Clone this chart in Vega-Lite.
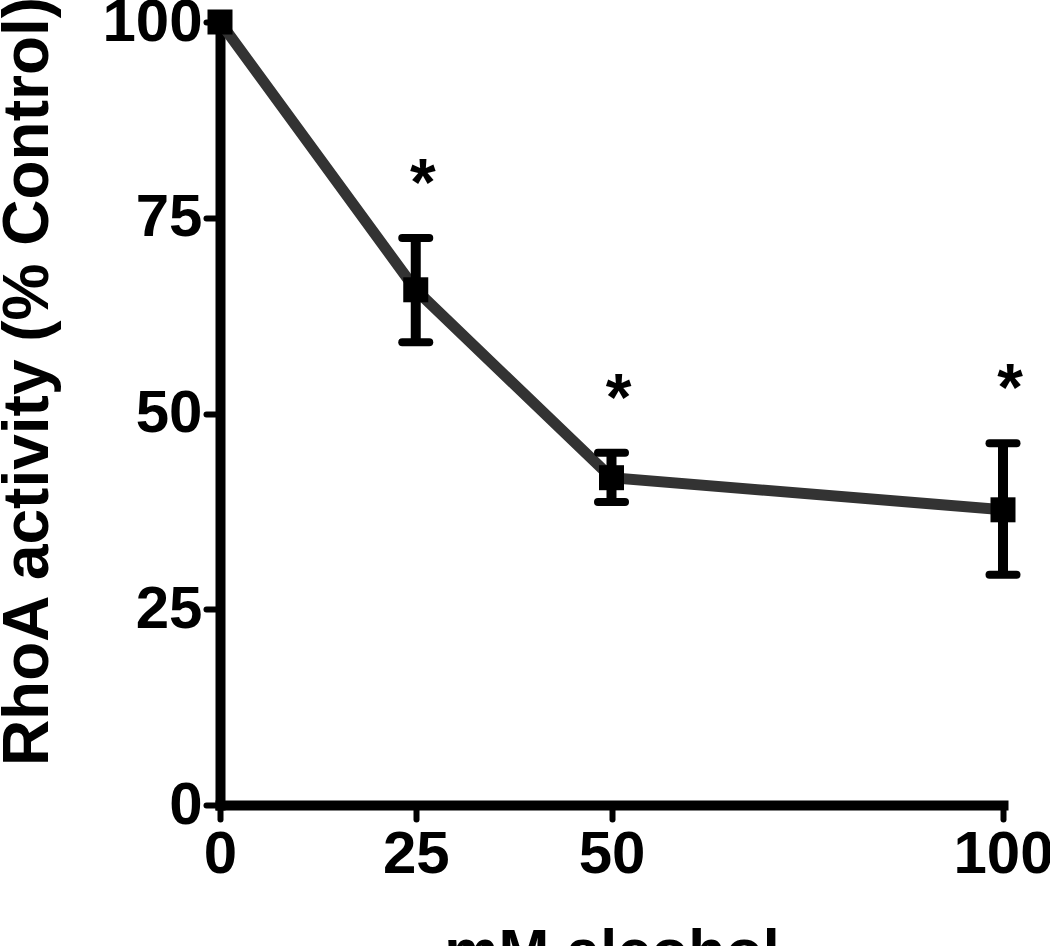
{
  "$schema": "https://vega.github.io/schema/vega-lite/v6.json",
  "width": 783,
  "height": 783,
  "autosize": {"type": "none"},
  "padding": {"left": 220, "top": 22, "right": 47, "bottom": 141},
  "background": "white",
  "config": {
    "view": {"stroke": null},
    "axis": {
      "grid": false,
      "domainColor": "black",
      "domainWidth": 10,
      "domainCap": "square",
      "tickColor": "black",
      "tickWidth": 6,
      "tickSize": 14,
      "tickCap": "round",
      "labelFont": "Liberation Sans",
      "labelFontWeight": "bold",
      "labelFontSize": 60,
      "labelColor": "black",
      "labelOverlap": false,
      "labelFlush": false,
      "labelBound": false,
      "titleFont": "Liberation Sans",
      "titleFontWeight": "bold",
      "titleColor": "black"
    }
  },
  "data": {
    "values": [
      {"dose": 0, "mean": 100, "lower": 100, "upper": 100, "sig": ""},
      {"dose": 25, "mean": 65.8, "lower": 59.1, "upper": 72.4, "sig": "*"},
      {"dose": 50, "mean": 41.8, "lower": 38.7, "upper": 45.0, "sig": "*"},
      {"dose": 100, "mean": 37.7, "lower": 29.4, "upper": 46.2, "sig": "*"}
    ]
  },
  "encoding": {
    "x": {
      "field": "dose",
      "type": "quantitative",
      "scale": {"domain": [0, 100], "nice": false, "zero": false},
      "axis": {
        "values": [0, 25, 50, 100],
        "title": "mM alcohol",
        "titleFontSize": 61,
        "titleBaseline": "alphabetic",
        "titleY": 166,
        "labelPadding": 6
      }
    }
  },
  "layer": [
    {
      "mark": {"type": "line", "color": "#333333", "strokeWidth": 11},
      "encoding": {
        "y": {
          "field": "mean",
          "type": "quantitative",
          "scale": {"domain": [0, 100], "nice": false},
          "axis": {
            "values": [0, 25, 50, 75, 100],
            "title": "RhoA activity (% Control)",
            "titleFontSize": 64,
            "titleAngle": -90,
            "titleBaseline": "alphabetic",
            "titleX": -173,
            "titleY": 359,
            "labelPadding": 4
          }
        }
      }
    },
    {
      "transform": [{"filter": "datum.sig == '*'"}],
      "mark": {"type": "rule", "color": "black", "strokeWidth": 10},
      "encoding": {
        "y": {"field": "lower", "type": "quantitative"},
        "y2": {"field": "upper"}
      }
    },
    {
      "transform": [{"filter": "datum.sig == '*'"}],
      "mark": {"type": "point", "shape": "M-1,0H1", "size": 729, "strokeWidth": 8, "strokeCap": "round", "color": "black", "opacity": 1},
      "encoding": {"y": {"field": "lower", "type": "quantitative"}}
    },
    {
      "transform": [{"filter": "datum.sig == '*'"}],
      "mark": {"type": "point", "shape": "M-1,0H1", "size": 729, "strokeWidth": 8, "strokeCap": "round", "color": "black", "opacity": 1},
      "encoding": {"y": {"field": "upper", "type": "quantitative"}}
    },
    {
      "mark": {"type": "point", "shape": "square", "filled": true, "size": 625, "color": "black", "opacity": 1},
      "encoding": {"y": {"field": "mean", "type": "quantitative"}}
    },
    {
      "transform": [{"filter": "datum.sig == '*'"}],
      "mark": {"type": "text", "font": "Liberation Sans", "fontWeight": "bold", "fontSize": 66, "color": "black", "baseline": "alphabetic", "dy": -33, "dx": 7},
      "encoding": {
        "y": {"field": "upper", "type": "quantitative"},
        "text": {"field": "sig"}
      }
    }
  ]
}
